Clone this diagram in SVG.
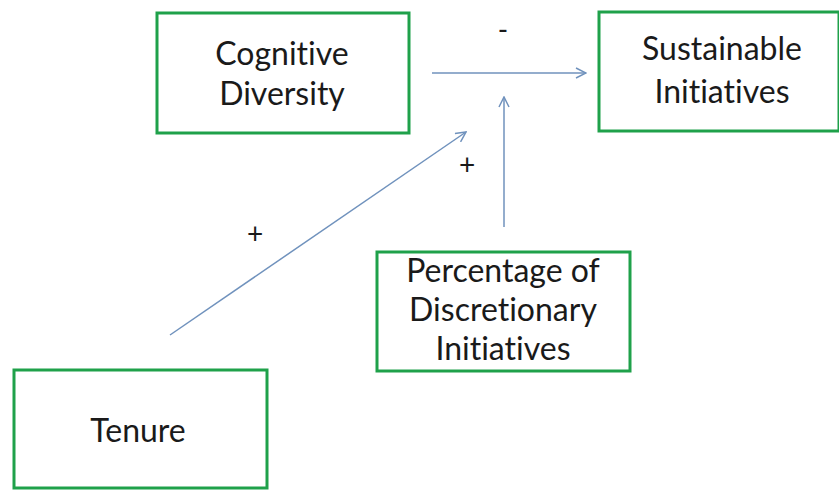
<svg xmlns="http://www.w3.org/2000/svg" width="839" height="490" viewBox="0 0 839 490">
  <style>
    .box { fill: #ffffff; stroke: #1fa14a; stroke-width: 3; }
    .lbl { font-family: Lato, "Open Sans", "Liberation Sans", sans-serif; font-size: 32px; fill: #1a1a1a; text-anchor: middle; font-variant-ligatures: none; }
    .sign { font-family: Lato, "Liberation Sans", sans-serif; font-size: 28px; fill: #1a1a1a; text-anchor: middle; }
    .conn { stroke: #7092bd; stroke-width: 1.5; fill: none; marker-end: url(#head); }
  </style>
  <defs>
    <marker id="head" viewBox="0 0 12 12" refX="11" refY="6" markerWidth="12" markerHeight="12" markerUnits="userSpaceOnUse" orient="auto">
      <path d="M1,1 L11,6 L1,11" fill="none" stroke="#7092bd" stroke-width="1.5"/>
    </marker>
  </defs>
  <rect width="839" height="490" fill="#ffffff"/>

  <g id="cognitive-diversity">
    <rect class="box" x="157" y="13" width="252" height="120"/>
    <text class="lbl" x="282" y="65">Cognitive</text>
    <text class="lbl" x="282" y="105">Diversity</text>
  </g>

  <g id="sustainable-initiatives">
    <rect class="box" x="599" y="12" width="240" height="119"/>
    <text class="lbl" x="722" y="60">Sustainable</text>
    <text class="lbl" x="722" y="103">Initiatives</text>
  </g>

  <g id="discretionary-initiatives">
    <rect class="box" x="377" y="252" width="253" height="119"/>
    <text class="lbl" x="503" y="282">Percentage of</text>
    <text class="lbl" x="503" y="321">Discretionary</text>
    <text class="lbl" x="503" y="360">Initiatives</text>
  </g>

  <g id="tenure">
    <rect class="box" x="14" y="370" width="253" height="118"/>
    <text class="lbl" x="138" y="442">Tenure</text>
  </g>

  <g id="connectors">
    <line class="conn" x1="432" y1="73" x2="586" y2="73"/>
    <line class="conn" x1="504" y1="227" x2="504" y2="97"/>
    <line class="conn" x1="170" y1="335" x2="466" y2="132"/>
    <text class="sign" x="503" y="40">-</text>
    <text class="sign" x="467" y="175">+</text>
    <text class="sign" x="255" y="244">+</text>
  </g>
</svg>
